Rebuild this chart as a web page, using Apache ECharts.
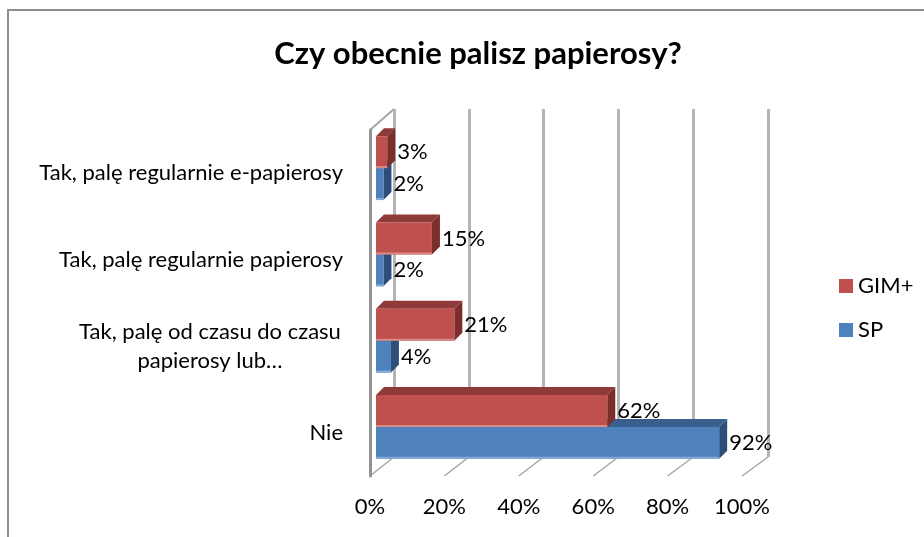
<!DOCTYPE html>
<html>
<head>
    <meta charset="UTF-8">
    <title>Czy obecnie palisz papierosy?</title>
    <script src="https://cdn.jsdelivr.net/npm/echarts@6/dist/echarts.min.js"></script>
    <style>
        html, body { margin: 0; padding: 0; background: #fff; }
        #chart { width: 924px; height: 537px; }
    </style>
</head>
<body>
<div id="chart"></div>
<script>
// dane
var categories = ['Nie', 'Tak, palę od czasu do czasu\npapierosy lub…', 'Tak, palę regularnie papierosy', 'Tak, palę regularnie e-papierosy'];
var seriesNames = ['GIM+', 'SP'];
var gimValues = [62, 21, 15, 3];
var spValues = [92, 4, 2, 2];
var xTicks = [0, 20, 40, 60, 80, 100];

var FONT = 'Lato';
var FS = 22;
var DEPTH = 8; // glebokosc slupka 3D

// kolory: front, gora, bok, spod
var redCol = { front: '#C0504D', top: '#8E3A38', side: '#7B2E2C', edge: '#D88C8A' };
var blueCol = { front: '#4F81BD', top: '#385F8E', side: '#2C4F7A', edge: '#86A9D6' };

function toData(arr) {
    var res = [];
    for (var i = 0; i < arr.length; i++) res.push([arr[i], i]);
    return res;
}

function makeRender(upper, col) {
    return function (params, api) {
        var v = api.value(0), c = api.value(1);
        var p0 = api.coord([0, c]);
        var p1 = api.coord([v, c]);
        var band = api.size([0, 1])[1];
        var h = band * 0.37;
        var x0 = p0[0], x1 = p1[0];
        var y0 = upper ? p0[1] - h : p0[1];
        var y1 = y0 + h;
        var d = DEPTH;
        return {
            type: 'group',
            children: [
                { type: 'polygon', shape: { points: [[x0, y0], [x0 + d, y0 - d], [x1 + d, y0 - d], [x1, y0]] }, style: { fill: col.top } },
                { type: 'polygon', shape: { points: [[x1, y0], [x1 + d, y0 - d], [x1 + d, y1 - d], [x1, y1]] }, style: { fill: col.side } },
                { type: 'rect', shape: { x: x0, y: y0, width: x1 - x0, height: h }, style: { fill: col.front } },
                { type: 'rect', shape: { x: x0, y: y1 - 2, width: x1 - x0, height: 2 }, style: { fill: col.edge } },
                { type: 'text', style: { text: v + '%', x: x1 + d + 2, y: (y0 + y1) / 2, fill: '#000', font: FS + 'px ' + FONT, verticalAlign: 'middle', align: 'left' } }
            ]
        };
    };
}

var chart = echarts.init(document.getElementById('chart'));

var option = {
    animation: false,
    backgroundColor: '#fff',
    title: {
        text: 'Czy obecnie palisz papierosy?',
        left: 473,
        top: 33,
        textAlign: 'center',
        textStyle: { fontFamily: FONT, fontSize: 31, fontWeight: 'bold', color: '#000' }
    },
    legend: {
        orient: 'vertical',
        left: 839,
        top: 275,
        padding: 0,
        itemWidth: 14,
        itemHeight: 14,
        itemGap: 22,
        data: [{ name: 'GIM+', icon: 'rect' }, { name: 'SP', icon: 'rect' }],
        textStyle: { fontFamily: FONT, fontSize: FS, color: '#000' }
    },
    grid: [
        { left: 376, right: 175, top: 125, bottom: 67 },  // slupki
        { left: 394, right: 156, top: 109, bottom: 80 },  // tylna sciana
        { left: 370, right: 182, top: 130, bottom: 61 }   // przednia krawedz
    ],
    xAxis: [
        { type: 'value', gridIndex: 0, min: 0, max: 100, interval: 20, show: false },
        {
            type: 'value', gridIndex: 1, min: 0, max: 100, interval: 20,
            axisLine: { show: false }, axisTick: { show: false }, axisLabel: { show: false },
            splitLine: { show: true, lineStyle: { color: '#B4B4B4', width: 3 } }
        },
        {
            type: 'value', gridIndex: 2, min: 0, max: 100, interval: 20,
            axisLine: { show: false }, axisTick: { show: false }, splitLine: { show: false },
            axisLabel: {
                margin: 20,
                formatter: function (v) { return xTicks.indexOf(v) >= 0 ? v + '%' : ''; },
                fontFamily: FONT, fontSize: FS, color: '#000'
            }
        }
    ],
    yAxis: [
        { type: 'category', gridIndex: 0, data: categories, show: false },
        { type: 'category', gridIndex: 1, data: categories, show: false },
        {
            type: 'category', gridIndex: 2, data: categories,
            axisLine: { show: true, lineStyle: { color: '#929292', width: 3 } },
            axisTick: { show: false },
            axisLabel: {
                margin: 27,
                fontFamily: FONT, fontSize: FS, color: '#000',
                formatter: function (v) {
                    if (v.indexOf('\n') < 0) return v;
                    return v.split('\n').map(function (s) { return '{c|' + s + '}'; }).join('\n');
                },
                rich: { c: { width: 266, align: 'center', lineHeight: 29, fontFamily: FONT, fontSize: FS, color: '#000' } }
            }
        }
    ],
    series: [
        {
            name: 'SP', type: 'custom', xAxisIndex: 0, yAxisIndex: 0,
            itemStyle: { color: blueCol.front },
            encode: { x: 0, y: 1 },
            renderItem: makeRender(false, blueCol),
            data: toData(spValues)
        },
        {
            name: 'GIM+', type: 'custom', xAxisIndex: 0, yAxisIndex: 0,
            itemStyle: { color: redCol.front },
            encode: { x: 0, y: 1 },
            renderItem: makeRender(true, redCol),
            data: toData(gimValues)
        }
    ]
};
chart.setOption(option);

// podloga 3D: ukosne kreski laczace przednia os z tylna sciana
var frontBottom = 537 - 61, backBottom = 537 - 80;
var frontTop = 130, backTop = 109;
var deco = [];
xTicks.forEach(function (t) {
    var xf = chart.convertToPixel({ xAxisIndex: 2 }, t);
    var xb = chart.convertToPixel({ xAxisIndex: 1 }, t);
    deco.push({
        type: 'line', shape: { x1: xf, y1: frontBottom, x2: xb, y2: backBottom },
        style: { stroke: '#A6A6A6', lineWidth: 1.5 }, silent: true
    });
});
var x0f = chart.convertToPixel({ xAxisIndex: 2 }, 0);
var x0b = chart.convertToPixel({ xAxisIndex: 1 }, 0);
deco.push({
    type: 'line', shape: { x1: x0f, y1: frontTop, x2: x0b, y2: backTop },
    style: { stroke: '#A6A6A6', lineWidth: 2 }, silent: true
});
// ramka wykresu
deco.push({
    type: 'rect', shape: { x: 8, y: 10, width: 940, height: 560 },
    style: { fill: 'none', stroke: '#8E8E8E', lineWidth: 2 }, silent: true, z: -1
});
chart.setOption({ graphic: deco });
</script>
</body>
</html>
